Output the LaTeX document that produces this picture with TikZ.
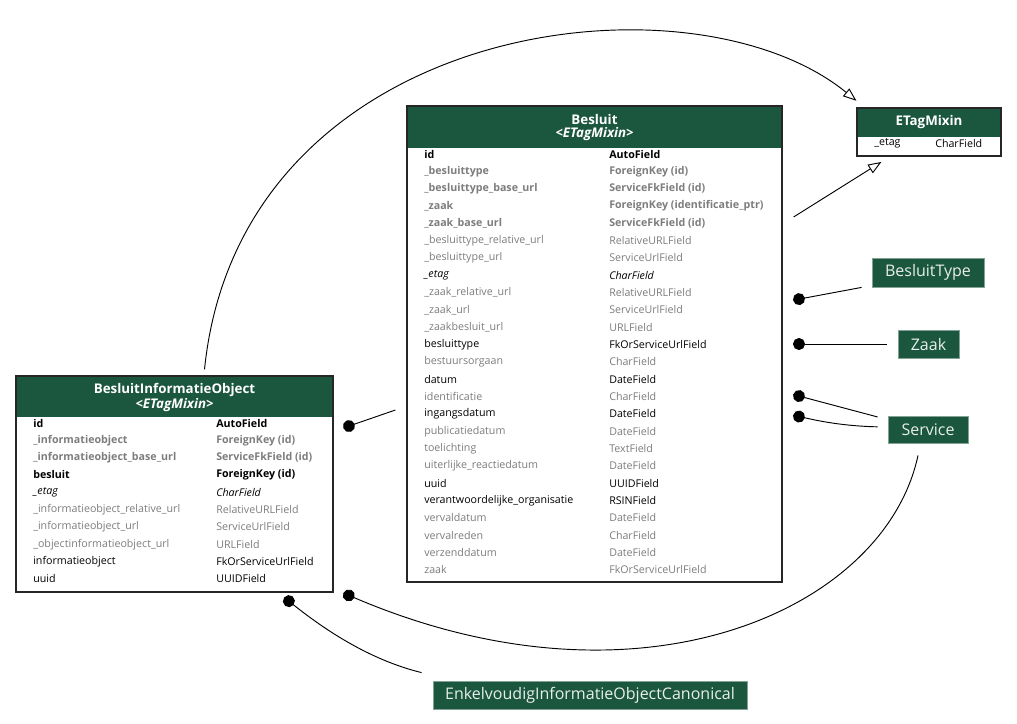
\documentclass[tikz,border=0pt]{standalone}
\usepackage{fontspec}
\setmainfont{Open Sans}
\usetikzlibrary{arrows.meta}
\definecolor{djgreen}{RGB}{27,86,63}
\definecolor{djgray}{RGB}{125,125,125}
\tikzset{
  model/.style={draw=black!85, line width=0.9pt, fill=white, inner sep=0pt},
  modelhead/.style={text=white, align=center, inner sep=0pt, font=\fontsize{10}{9.9}\selectfont\bfseries},
  extmodel/.style={fill=djgreen, draw=djgreen!55, line width=0.6pt, text=white!90!djgreen, inner sep=0pt, font=\fontsize{12}{13}\selectfont},
  fld/.style={anchor=west, inner sep=0pt, font=\fontsize{8}{9}\selectfont},
  kb/.style={font=\fontsize{8}{9}\selectfont\bfseries},
  kg/.style={text=djgray, font=\fontsize{8}{9}\selectfont\bfseries},
  nb/.style={},
  ng/.style={text=djgray},
  ib/.style={font=\fontsize{8}{9}\selectfont\itshape},
  fk/.style={-{Circle[length=9pt]}, line width=0.7pt},
  isa/.style={-{Triangle[open,length=10pt,width=7.5pt]}, line width=0.7pt},
}

\begin{document}
\begin{tikzpicture}[x=0.75pt,y=-0.75pt]
    \useasboundingbox (0,0) rectangle (1017,724);

    \node[model, minimum width=281.25pt, minimum height=357pt] (besluit) at (594.5,344) {};
    \fill[djgreen] (407.6,106.6) rectangle (781.4,148);
    \node[modelhead] (besluit-h) at (594.5,127.5) {Besluit\\\textit{<ETagMixin>}};
    \foreach \n/\t/\s [count=\i] in {id/AutoField/kb, \_besluittype/ForeignKey (id)/kg,
        \_besluittype\_base\_url/ServiceFkField (id)/kg, \_zaak/ForeignKey (identificatie\_ptr)/kg,
        \_zaak\_base\_url/ServiceFkField (id)/kg, \_besluittype\_relative\_url/RelativeURLField/ng,
        \_besluittype\_url/ServiceUrlField/ng, \_etag/CharField/ib,
        \_zaak\_relative\_url/RelativeURLField/ng, \_zaak\_url/ServiceUrlField/ng,
        \_zaakbesluit\_url/URLField/ng, besluittype/FkOrServiceUrlField/nb,
        bestuursorgaan/CharField/ng, datum/DateField/nb, identificatie/CharField/ng,
        ingangsdatum/DateField/nb, publicatiedatum/DateField/ng, toelichting/TextField/ng,
        uiterlijke\_reactiedatum/DateField/ng, uuid/UUIDField/nb,
        verantwoordelijke\_organisatie/RSINField/nb, vervaldatum/DateField/ng,
        vervalreden/CharField/ng, verzenddatum/DateField/ng, zaak/FkOrServiceUrlField/ng}{
        \node[fld,\s] (bn\i) at (424,{154+(\i-1)*17.33}) {\n};
        \node[fld,\s] (bt\i) at (609,{154+(\i-1)*17.33}) {\t};
    }

    \node[model, minimum width=237.75pt, minimum height=162pt] (bio) at (174.5,484) {};
    \fill[djgreen] (16.6,376.6) rectangle (332.4,417);
    \node[modelhead] (bio-h) at (174.5,397.5) {BesluitInformatieObject\\\textit{<ETagMixin>}};
    \foreach \n/\t/\s [count=\i] in {id/AutoField/kb, \_informatieobject/ForeignKey (id)/kg,
        \_informatieobject\_base\_url/ServiceFkField (id)/kg, besluit/ForeignKey (id)/kb,
        \_etag/CharField/ib, \_informatieobject\_relative\_url/RelativeURLField/ng,
        \_informatieobject\_url/ServiceUrlField/ng, \_objectinformatieobject\_url/URLField/ng,
        informatieobject/FkOrServiceUrlField/nb, uuid/UUIDField/nb}{
        \node[fld,\s] (in\i) at (33,{423+(\i-1)*17.33}) {\n};
        \node[fld,\s] (it\i) at (216,{423+(\i-1)*17.33}) {\t};
    }

    \node[model, minimum width=108pt, minimum height=36pt] (etag) at (929,132) {};
    \fill[djgreen] (857.6,108.6) rectangle (1000.4,137);
    \node[modelhead] (etag-h) at (929,122.5) {ETagMixin};
    \node[fld] (etag-n) at (874,143.5) {\_etag};
    \node[fld] (etag-t) at (935,143.5) {CharField};

    \node[extmodel, minimum width=84pt, minimum height=21.75pt] (besluittype) at (928,272.5) {BesluitType};
    \node[extmodel, minimum width=45.75pt, minimum height=21pt] (zaak) at (928.5,344) {Zaak};
    \node[extmodel, minimum width=60pt, minimum height=20.25pt] (service) at (928,429.5) {Service};
    \node[extmodel, minimum width=235.5pt, minimum height=21pt] (eioc) at (590,695) {EnkelvoudigInformatieObjectCanonical};

    \coordinate (d-bt) at (793.1,300.2);
    \coordinate (d-zaak) at (793,344);
    \coordinate (d-srv1) at (793.2,394.5);
    \coordinate (d-srv2) at (793.1,415.3);
    \coordinate (d-srv3) at (343.3,593);
    \coordinate (d-eioc) at (284.2,597.4);
    \coordinate (d-bsl) at (343.3,428);

    \draw[isa] ([xshift=22.5pt,yshift=4.5pt]bio.north) .. controls (240,20) and (690,-35) .. ([yshift=5pt]etag.north west);
    \draw[isa] ([xshift=8.25pt]besluit.east |- 0,217) -- ([xshift=18.75pt,yshift=-4pt]etag.south west);
    \draw[fk] ([xshift=-7.5pt]besluittype.south west) -- (d-bt);
    \draw[fk] ([xshift=-8.25pt]zaak.west) -- (d-zaak);
    \draw[fk] ([xshift=-7.5pt,yshift=9.4pt]service.west) -- (d-srv1);
    \draw[fk] ([xshift=-7.5pt,yshift=2pt]service.west) .. controls (840,426) and (815,420) .. (d-srv2);
    \draw[fk] ([xshift=-7.5pt,yshift=-9pt]service.south) .. controls (885,610) and (640,720) .. (d-srv3);
    \draw[fk] ([xshift=-8.25pt,yshift=6pt]eioc.north west) .. controls (370,660) and (325,630) .. (d-eioc);
    \draw[fk] ([xshift=-8.25pt]besluit.west |- 0,410) -- (d-bsl);
\end{tikzpicture}
\end{document}
